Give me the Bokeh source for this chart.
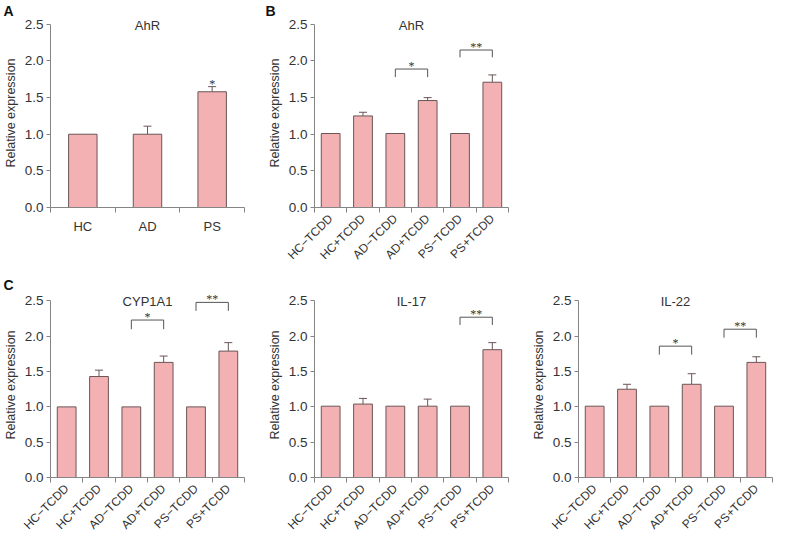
import math
from bokeh.plotting import figure
from bokeh.layouts import column, row
from bokeh.models import (FixedTicker, Label, LabelSet, Whisker, TeeHead,
                          ColumnDataSource, Range1d, NumeralTickFormatter, Title)
from bokeh.embed import file_html
from bokeh.resources import INLINE

# ---------------- data ----------------
cats_a = ["HC", "AD", "PS"]
ahr_a = [1.0, 1.0, 1.58]
ahr_a_err = [None, 1.11, 1.65]          # upper end of error bar
ahr_a_stars = ["", "", "*"]

cats_t = ["HC\u2212TCDD", "HC+TCDD", "AD\u2212TCDD", "AD+TCDD", "PS\u2212TCDD", "PS+TCDD"]

ahr_b = [1.01, 1.25, 1.01, 1.46, 1.01, 1.71]
ahr_b_err = [None, 1.30, None, 1.50, None, 1.81]
ahr_b_br = [(2, 3, 1.89, 1.78, "*"), (4, 5, 2.15, 2.05, "**")]

cyp = [1.0, 1.43, 1.0, 1.63, 1.0, 1.79]
cyp_err = [None, 1.52, None, 1.72, None, 1.91]
cyp_br = [(2, 3, 2.23, 2.10, "*"), (4, 5, 2.48, 2.36, "**")]

il17 = [1.01, 1.04, 1.01, 1.01, 1.01, 1.81]
il17_err = [None, 1.12, None, 1.11, None, 1.91]
il17_br = [(4, 5, 2.27, 2.16, "**")]

il22 = [1.01, 1.25, 1.01, 1.32, 1.01, 1.63]
il22_err = [None, 1.32, None, 1.47, None, 1.71]
il22_br = [(2, 3, 1.86, 1.74, "*"), (4, 5, 2.10, 1.98, "**")]

y_ticks = [0.0, 0.5, 1.0, 1.5, 2.0, 2.5]
y_max = 2.5

# ---------------- style ----------------
FONT = "Liberation Sans"
TXT = "#333333"
AXC = "#858585"
FILL = "#f3b1b4"
EDGE = "#6a5656"
FW = 198    # frame width
BL = 46     # left border


def panel(cats, vals, errs, title, bar_w, rotate, letter="", letter_dx=-47,
          brackets=(), stars=None, width=264, height=270, top=17, fh=192,
          y_end=2.58):
    n = len(cats)
    centers = [i + 0.5 for i in range(n)]
    p = figure(width=width, height=height, output_backend="svg",
               toolbar_location=None, x_range=Range1d(0, n),
               y_range=Range1d(0, y_end), min_border_left=BL,
               min_border_right=width - BL - FW, min_border_top=top,
               min_border_bottom=height - top - fh)
    p.outline_line_color = None
    p.grid.visible = False
    p.background_fill_color = "white"
    p.border_fill_color = "white"

    p.title = Title(text=letter, align="left", offset=letter_dx, standoff=0,
                    text_font=FONT, text_font_size="14px",
                    text_font_style="bold", text_color="#111111")

    p.vbar(x=centers, top=vals, width=bar_w, fill_color=FILL,
           line_color=EDGE, line_width=1)

    ex = [c for c, e in zip(centers, errs) if e is not None]
    el = [v for v, e in zip(vals, errs) if e is not None]
    eu = [e for e in errs if e is not None]
    src = ColumnDataSource(dict(x=ex, lower=el, upper=eu))
    p.add_layout(Whisker(base="x", lower="lower", upper="upper", source=src,
                         line_color=EDGE, line_width=1,
                         upper_head=TeeHead(size=8, line_color=EDGE, line_width=1),
                         lower_head=None))

    # significance brackets
    if brackets:
        xs, ys = [], []
        bx, by, bt = [], [], []
        for i, j, btop, drop, lab in brackets:
            xs.append([centers[i], centers[i], centers[j], centers[j]])
            ys.append([drop, btop, btop, drop])
            bx.append((centers[i] + centers[j]) / 2)
            by.append(btop)
            bt.append(lab)
        p.multi_line(xs=xs, ys=ys, line_color="#555555", line_width=1)
        ssrc = ColumnDataSource(dict(x=bx, y=by, t=bt))
        p.add_layout(LabelSet(x="x", y="y", text="t", source=ssrc,
                              text_align="center", text_baseline="middle",
                              text_font=FONT, text_font_size="12px",
                              text_color=TXT, y_offset=3))
    if stars:
        sx = [c for c, s in zip(centers, stars) if s]
        sy = [e for e, s in zip(errs, stars) if s]
        st = [s for s in stars if s]
        ssrc = ColumnDataSource(dict(x=sx, y=sy, t=st))
        p.add_layout(LabelSet(x="x", y="y", text="t", source=ssrc,
                              text_align="center", text_baseline="middle",
                              text_font=FONT, text_font_size="12px",
                              text_color=TXT, y_offset=3))

    # panel title at the top of the y axis
    p.add_layout(Label(x=n / 2, y=y_max, text=title, text_align="center",
                       text_baseline="middle", text_font=FONT,
                       text_font_size="13px", text_color=TXT, y_offset=-1))

    # x axis: labels at bar centres, tick marks between categories
    xa = p.xaxis[0]
    xa.ticker = FixedTicker(ticks=centers, minor_ticks=list(range(n + 1)))
    xa.major_label_overrides = {c: name for c, name in zip(centers, cats)}
    xa.major_tick_out = 0
    xa.major_tick_in = 0
    xa.minor_tick_out = 5
    xa.minor_tick_in = 0
    xa.minor_tick_line_color = AXC
    xa.axis_line_color = AXC
    xa.major_label_text_font = FONT
    xa.major_label_text_color = TXT
    if rotate:
        xa.major_label_text_font_size = "12px"
        xa.major_label_orientation = math.pi / 4
        xa.major_label_standoff = 4
    else:
        xa.major_label_text_font_size = "13px"
        xa.major_label_standoff = 6

    # y axis
    ya = p.yaxis[0]
    ya.bounds = (0, y_max)
    ya.ticker = FixedTicker(ticks=y_ticks)
    ya.formatter = NumeralTickFormatter(format="0.0")
    ya.major_tick_out = 4
    ya.major_tick_in = 0
    ya.minor_tick_out = 0
    ya.minor_tick_in = 0
    ya.axis_line_color = AXC
    ya.major_tick_line_color = AXC
    ya.major_label_text_font = FONT
    ya.major_label_text_font_size = "13.5px"
    ya.major_label_text_color = TXT
    ya.major_label_standoff = 3
    ya.axis_label = "Relative expression"
    ya.axis_label_text_font = FONT
    ya.axis_label_text_font_size = "12.5px"
    ya.axis_label_text_font_style = "normal"
    ya.axis_label_text_color = TXT
    ya.axis_label_standoff = 4
    return p


r1 = dict(height=270, top=17, fh=192, y_end=2.58)
r2 = dict(height=270, top=22, fh=188, y_end=2.62)

pa = panel(cats_a, ahr_a, ahr_a_err, "AhR", 0.44, False, letter="A",
           stars=ahr_a_stars, letter_dx=-47, **r1)
pb = panel(cats_t, ahr_b, ahr_b_err, "AhR", 0.58, True, letter="B",
           brackets=ahr_b_br, letter_dx=-49, **r1)
pc = panel(cats_t, cyp, cyp_err, "CYP1A1", 0.58, True, letter="C",
           brackets=cyp_br, letter_dx=-47, **r2)
pd = panel(cats_t, il17, il17_err, "IL-17", 0.58, True,
           brackets=il17_br, **r2)
pe = panel(cats_t, il22, il22_err, "IL-22", 0.58, True,
           brackets=il22_br, width=250, **r2)

layout = column(row(pa, pb), row(pc, pd, pe))

open("out.html", "w").write(file_html(layout, INLINE))
